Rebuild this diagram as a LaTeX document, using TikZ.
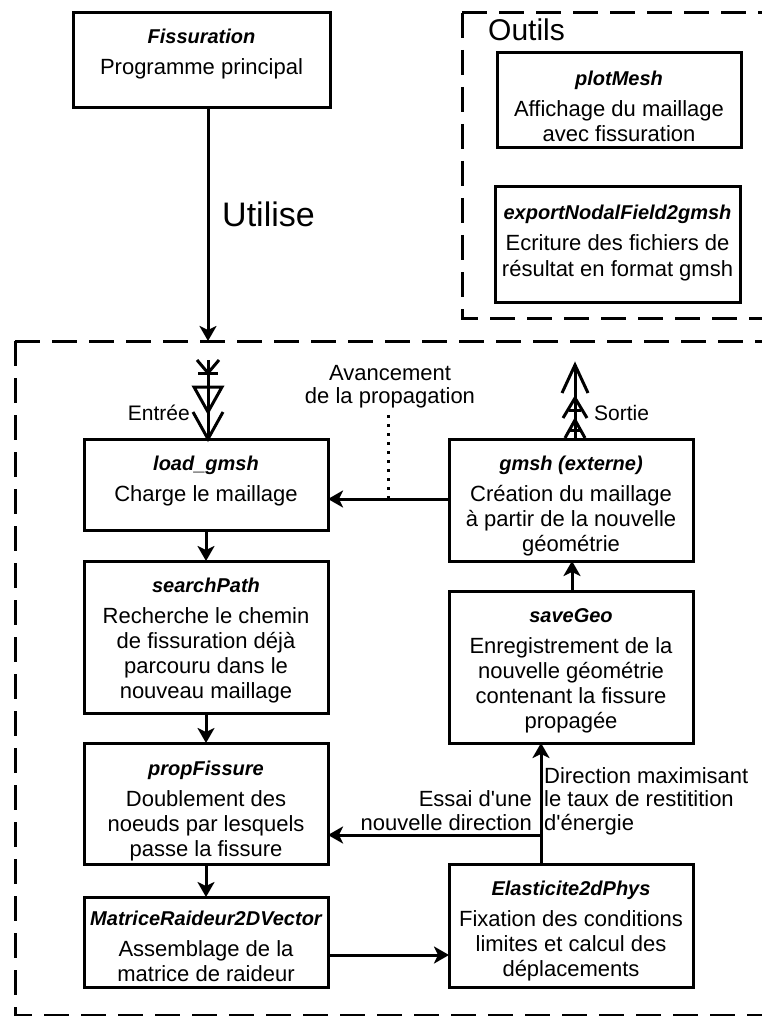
\documentclass[tikz,border=0pt]{standalone}
\usepackage{fontspec}
\setmainfont{Liberation Sans}
\usetikzlibrary{arrows.meta}
\tikzset{
  boxst/.style={draw, line width=3pt, inner sep=0pt, outer sep=0pt},
  ttl/.style={font=\fontsize{20}{22}\selectfont\bfseries\itshape, inner sep=0pt, anchor=base},
  bodyst/.style={font=\fontsize{22}{25}\selectfont, inner sep=0pt, anchor=base},
  lbl/.style={font=\fontsize{22}{25}\selectfont, inner sep=0pt},
  arr/.style={line width=3pt, -{Stealth[length=15pt,width=17pt,inset=4pt]}},
  plainln/.style={line width=3pt},
  dashbox/.style={line width=3pt, dash pattern=on 25pt off 12pt},
  dotln/.style={line width=3pt, dash pattern=on 3pt off 6pt},
}
% #1 name, #2 left, #3 top, #4 right, #5 bottom, #6 title, #7 title centre offset, #8 lines
\newcommand{\procbox}[8]{%
  \node[boxst, minimum width={(#4-#2)*1pt}, minimum height={(#5-#3)*1pt}] (#1) at ({(#2+#4)/2},{(#3+#5)/2}) {};
  \node[ttl] (#1-t) at ({(#2+#4)/2},{#3+#7+7}) {#6};
  \foreach \txt [count=\i] in {#8} {
    \node[bodyst] (#1-l\i) at ({(#2+#4)/2},{#3+#7+38+(\i-1)*25}) {\txt};
  }%
}
\begin{document}
\begin{tikzpicture}[x=1pt,y=-1pt]
\useasboundingbox (0,0) rectangle (762,1016);
\clip (0,0) rectangle (762,1016);
\fill[white] (0,0) rectangle (762,1016);

% dashed frames
\draw[dashbox] (462,13) -- (790,13);
\draw[dashbox] (462,13) -- (462,318) -- (790,318);
\draw[dashbox] (15,341) -- (790,341);
\draw[dashbox] (15,341) -- (15,1015) -- (790,1015);
\node[font=\fontsize{30}{32}\selectfont, inner sep=0pt, anchor=base west] (outils) at (488,41) {Outils};

% boxes
\procbox{fiss}{73}{13}{330}{108}{Fissuration}{24}{Programme principal}
\procbox{plot}{497}{53}{741}{148}{plotMesh}{26}{Affichage du maillage,avec fissuration}
\procbox{export}{495}{187}{740}{302}{exportNodalField2gmsh}{26}{Ecriture des fichiers de,résultat en format gmsh}
\procbox{load}{84}{439}{328}{530}{load\_gmsh}{24}{Charge le maillage}
\procbox{search}{84}{561}{328}{713}{searchPath}{24}{Recherche le chemin,de fissuration déjà,parcouru dans le,nouveau maillage}
\procbox{prop}{84}{743}{328}{864}{propFissure}{25}{Doublement des,noeuds par lesquels,passe la fissure}
\procbox{mat}{84}{897}{328}{987}{MatriceRaideur2DVector}{21}{Assemblage de la,matrice de raideur}
\procbox{gmsh}{449}{439}{693}{561}{gmsh (externe)}{24}{Création du maillage,à partir de la nouvelle,géométrie}
\procbox{save}{449}{591}{693}{743}{saveGeo}{24}{Enregistrement de la,nouvelle géométrie,contenant la fissure,propagée}
\procbox{elas}{449}{864}{693}{987}{Elasticite2dPhys}{24}{Fixation des conditions,limites et calcul des,déplacements}

% main arrow
\coordinate (ctop) at (208,341);
\draw[arr] (fiss.south -| ctop) -- (ctop);
\node[font=\fontsize{34}{36}\selectfont, inner sep=0pt, anchor=base west] (utilise) at (222,226) {Utilise};

% flow
\draw[arr] (load.south) -- (search.north);
\draw[arr] (search.south) -- (prop.north);
\draw[arr] (prop.south) -- (mat.north);
\coordinate (ym) at (0,955);
\draw[arr] (mat.east |- ym) -- (elas.west |- ym);
\coordinate (vx) at (541,835);
\draw[arr] (elas.north -| vx) -- (save.south -| vx);
\draw[arr] (vx) -- (prop.east |- vx);
\coordinate (sx) at (572,0);
\draw[arr] (save.north -| sx) -- (gmsh.south -| sx);
\coordinate (gy) at (0,499);
\draw[arr] (gmsh.west |- gy) -- (load.east |- gy);
\coordinate (d1) at (388,415);
\draw[dotln] (d1) -- (d1 |- gy);

% labels
\node[lbl, anchor=base] (av1) at (390,380) {Avancement};
\node[lbl, anchor=base] (av2) at (390,403) {de la propagation};
\node[lbl, anchor=base east] (es1) at (532,806) {Essai d\textquotesingle une};
\node[lbl, anchor=base east] (es2) at (532,830) {nouvelle direction};
\node[lbl, anchor=base west] (di1) at (544,783) {Direction maximisant};
\node[lbl, anchor=base west] (di2) at (544,806) {le taux de restitition};
\node[lbl, anchor=base west] (di3) at (544,830) {d\textquotesingle énergie};

% Entree arrow
\coordinate (ein) at (208,360);
\draw[plainln] (ein) -- (load.north -| ein);
\begin{scope}[shift={(ein)}, plainln, line join=miter]
  \draw (-11,0) -- (0,13) -- (11,0);
  \draw (-10,13) -- (10,13);
  \draw (-14,27) -- (14,27) -- (0,52) -- cycle;
  \draw (-15,52) -- (0,79) -- (15,52);
\end{scope}
\node[lbl, font=\fontsize{21}{24}\selectfont, anchor=base east] (entree) at (190,420) {Entrée};

% Sortie arrow
\coordinate (sout) at (575,365);
\draw[plainln] (gmsh.north -| sout) -- (sout);
\begin{scope}[shift={(sout)}, plainln, line join=miter]
  \draw (-13,28) -- (0,0) -- (13,28);
  \draw (-12,53) -- (0,33) -- (12,53);
  \draw (-6,45) -- (6,45);
  \draw (-10,73) -- (0,55) -- (10,73);
  \draw (-6,65) -- (6,65);
\end{scope}
\node[lbl, font=\fontsize{21}{24}\selectfont, anchor=base west] (sortie) at (594,420) {Sortie};
\end{tikzpicture}
\end{document}
